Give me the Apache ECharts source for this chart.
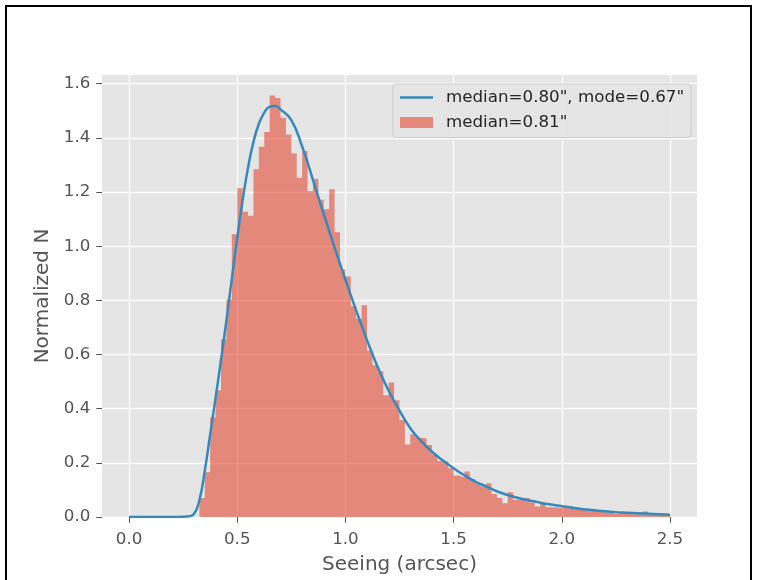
<!DOCTYPE html>
<html><head><meta charset="utf-8">
<script src="https://cdn.jsdelivr.net/npm/echarts@6/dist/echarts.min.js"></script>
<style>html,body{margin:0;padding:0;background:#fff}#c{width:765px;height:580px}</style>
</head><body><div id="c"></div>
<script>
const xTicks = [0.0, 0.5, 1.0, 1.5, 2.0, 2.5];
const yTicks = [0.0, 0.2, 0.4, 0.6, 0.8, 1.0, 1.2, 1.4, 1.6];
const binStart = 0.325;
const binWidth = 0.025;
const histValues = [
  0.070, 0.165, 0.367, 0.468, 0.656, 0.803, 1.044, 1.214, 1.127, 1.112,
  1.284, 1.367, 1.422, 1.556, 1.547, 1.474, 1.412, 1.342, 1.253, 1.351,
  1.203, 1.249, 1.171, 1.136, 1.210, 1.051, 0.914, 0.888, 0.778, 0.732,
  0.782, 0.615, 0.560, 0.538, 0.450, 0.497, 0.431, 0.358, 0.268, 0.306,
  0.293, 0.291, 0.266, 0.231, 0.207, 0.205, 0.180, 0.153, 0.146, 0.168,
  0.140, 0.125, 0.113, 0.125, 0.085, 0.070, 0.051, 0.091, 0.064, 0.068,
  0.070, 0.054, 0.039, 0.048, 0.036, 0.036, 0.033, 0.039, 0.042, 0.033,
  0.027, 0.023, 0.022, 0.021, 0.018, 0.017, 0.012, 0.016, 0.015, 0.014,
  0.012, 0.009, 0.020, 0.012, 0.011, 0.010, 0.009
];
const curveX = [0.00, 0.10, 0.20, 0.25, 0.275, 0.30, 0.325, 0.35, 0.375, 0.40,
  0.425, 0.45, 0.475, 0.50, 0.525, 0.55, 0.575, 0.60, 0.625, 0.65,
  0.675, 0.70, 0.75, 0.80, 0.85, 0.90, 0.95, 1.00, 1.05, 1.10,
  1.15, 1.20, 1.25, 1.30, 1.35, 1.40, 1.45, 1.50, 1.55, 1.60,
  1.65, 1.70, 1.75, 1.80, 1.85, 1.90, 1.95, 2.00, 2.05, 2.10,
  2.15, 2.20, 2.25, 2.30, 2.35, 2.40, 2.45, 2.50];
const curveY = [0, 0, 0, 0.001, 0.003, 0.011, 0.062, 0.170, 0.305, 0.440,
  0.580, 0.725, 0.880, 1.030, 1.170, 1.290, 1.385, 1.452, 1.493, 1.515,
  1.518, 1.505, 1.465, 1.368, 1.245, 1.118, 0.995, 0.876, 0.762, 0.653,
  0.552, 0.466, 0.393, 0.328, 0.280, 0.241, 0.209, 0.180, 0.154, 0.131,
  0.113, 0.095, 0.081, 0.070, 0.061, 0.053, 0.046, 0.040, 0.034, 0.029,
  0.025, 0.021, 0.018, 0.016, 0.014, 0.012, 0.010, 0.0085];
const lineName = 'median=0.80", mode=0.67"';
const histName = 'median=0.81"';

const histData = histValues.map((v, i) => [binStart + i * binWidth, v]);
histData.push([binStart + histValues.length * binWidth, histValues[histValues.length - 1]]);
const curveData = curveX.map((x, i) => [x, curveY[i]]);

const FONT = 'DejaVu Sans';
const chart = echarts.init(document.getElementById('c'), null, {renderer: 'canvas'});
chart.setOption({
  animation: false,
  backgroundColor: '#ffffff',
  graphic: [{
    type: 'rect', silent: true, z: 100,
    shape: {x: 6, y: 6, width: 745, height: 620},
    style: {fill: 'none', stroke: '#000000', lineWidth: 2}
  }],
  grid: {left: 102, top: 75, width: 595, height: 444, show: true,
    backgroundColor: '#E5E5E5', borderWidth: 0, containLabel: false},
  legend: {
    orient: 'vertical', left: 393, top: 84,
    padding: [3.5, 7, 5, 7], itemGap: 5,
    itemWidth: 33, itemHeight: 11, symbolKeepAspect: true,
    backgroundColor: 'rgba(229,229,229,0.8)', borderColor: '#cccccc', borderWidth: 1, borderRadius: 3,
    textStyle: {fontFamily: FONT, fontSize: 16.7, color: '#262626', lineHeight: 20, padding: [0, 0, 0, 8]},
    data: [
      {name: lineName, icon: 'path://M0,0H33V2.5H0Z', itemStyle: {color: '#348ABD'}},
      {name: histName, icon: 'rect', itemStyle: {color: '#E24A33', opacity: 0.6}}
    ]
  },
  xAxis: {
    type: 'value', min: -0.125, max: 2.625,
    axisLine: {show: false, onZero: false},
    axisTick: {show: true, customValues: xTicks, length: 5.8, lineStyle: {color: '#555555', width: 1}},
    axisLabel: {customValues: xTicks, formatter: v => v.toFixed(1), margin: 14,
      fontFamily: FONT, fontSize: 16.7, color: '#555555'},
    splitLine: {show: true, lineStyle: {color: '#ffffff', width: 1.3}},
    name: 'Seeing (arcsec)', nameLocation: 'middle', nameGap: 38,
    nameTextStyle: {fontFamily: FONT, fontSize: 20, color: '#555555'}
  },
  yAxis: {
    type: 'value', min: 0, max: 1.632,
    axisLine: {show: false, onZero: false},
    axisTick: {show: true, customValues: yTicks, length: 5.8, lineStyle: {color: '#555555', width: 1}},
    axisLabel: {customValues: yTicks, formatter: v => v.toFixed(1), margin: 11.6,
      fontFamily: FONT, fontSize: 16.7, color: '#555555'},
    splitLine: {show: true, lineStyle: {color: '#ffffff', width: 1.3}},
    name: 'Normalized N', nameLocation: 'middle', nameGap: 39, nameRotate: 90,
    nameTextStyle: {fontFamily: FONT, fontSize: 20, color: '#555555'}
  },
  series: [
    {
      name: histName, type: 'line', step: 'end', data: histData,
      symbol: 'none', showSymbol: false, z: 2,
      lineStyle: {width: 1, color: 'rgba(0,0,0,0)'},
      itemStyle: {color: '#E24A33', opacity: 0.6},
      areaStyle: {color: '#E24A33', opacity: 0.6}
    },
    {
      name: lineName, type: 'line', data: curveData,
      symbol: 'none', showSymbol: false, smooth: true, z: 3,
      lineStyle: {color: '#348ABD', width: 2.5},
      itemStyle: {color: '#348ABD'}
    }
  ]
});
</script>
</body></html>
